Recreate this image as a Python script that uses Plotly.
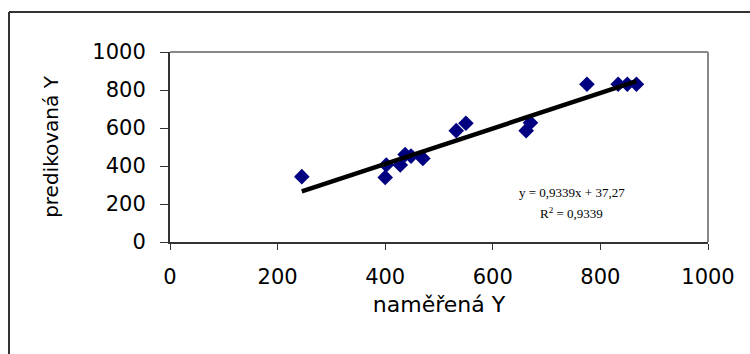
import plotly.graph_objects as go

x_meas = [245, 400, 402, 428, 437, 448, 470, 532, 550, 662, 670, 775, 833, 850, 867]
y_pred = [344, 340, 405, 405, 460, 452, 440, 586, 625, 586, 628, 830, 830, 830, 830]

# trendline coefficients shown on the chart
slope = 0.9339
intercept = 37.27
r2_text = "0,9339"

tick_vals = [0, 200, 400, 600, 800, 1000]
tick_text = ["0", "200", "400", "600", "800", "1000"]

x_line = [min(x_meas), max(x_meas)]
y_line = [slope * v + intercept for v in x_line]

fig = go.Figure()
fig.add_trace(go.Scatter(
    x=x_meas, y=y_pred, mode="markers",
    marker=dict(symbol="diamond", size=12, color="#000080", line=dict(width=0)),
    showlegend=False, hoverinfo="skip"))
fig.add_trace(go.Scatter(
    x=x_line, y=y_line, mode="lines",
    line=dict(color="black", width=4.5),
    showlegend=False, hoverinfo="skip"))

W, H = 750, 354
L, R, T, B = 170, 42, 52, 112
pw, ph = W - L - R, H - T - B

def px(xp):
    return (xp - L) / pw

def py(yp):
    return (H - B - yp) / ph

tick_font = dict(family="DejaVu Sans", size=21, color="black")

fig.update_layout(
    width=W, height=H,
    margin=dict(l=L, r=R, t=T, b=B, pad=0),
    paper_bgcolor="white", plot_bgcolor="white",
    xaxis=dict(range=[0, 1000], tickvals=tick_vals, ticktext=tick_text,
               showgrid=False, zeroline=False,
               showline=True, linecolor="#333333", linewidth=2,
               ticks="outside", ticklen=6, tickwidth=1, tickcolor="#333333",
               tickfont=tick_font, ticklabelstandoff=9,
               title=dict(text="naměřená Y",
                          font=dict(family="DejaVu Sans", size=22, color="black"),
                          standoff=8)),
    yaxis=dict(range=[0, 1000], tickvals=tick_vals, ticktext=tick_text,
               showgrid=False, zeroline=False,
               showline=True, linecolor="#333333", linewidth=2,
               ticks="outside", ticklen=8, tickwidth=1, tickcolor="#333333",
               tickfont=tick_font, ticklabelstandoff=10,
               title=dict(text="predikovaná Y",
                          font=dict(family="DejaVu Sans", size=20, color="black"),
                          standoff=28)),
    shapes=[
        # plot area frame (top and right, grey)
        dict(type="line", xref="paper", yref="paper", x0=0, x1=1, y0=1, y1=1,
             line=dict(color="#888888", width=2)),
        dict(type="line", xref="paper", yref="paper", x0=1, x1=1, y0=0, y1=1,
             line=dict(color="#888888", width=2)),
        # outer chart border (left and top visible)
        dict(type="line", xref="paper", yref="paper", x0=px(9), x1=px(9),
             y0=py(12), y1=py(H + 20), line=dict(color="#333333", width=2)),
        dict(type="line", xref="paper", yref="paper", x0=px(9), x1=px(W + 20),
             y0=py(12), y1=py(12), line=dict(color="#333333", width=2)),
    ],
    annotations=[
        dict(text="y = 0,9339x + 37,27", xref="paper", yref="paper",
             x=px(572), y=py(192), xanchor="center", yanchor="middle",
             showarrow=False,
             font=dict(family="Liberation Serif", size=13, color="black")),
        dict(text="R<sup>2</sup> = " + r2_text, xref="paper", yref="paper",
             x=px(571), y=py(213), xanchor="center", yanchor="middle",
             showarrow=False,
             font=dict(family="Liberation Serif", size=13, color="black")),
    ],
)

fig.write_html("out.html")
